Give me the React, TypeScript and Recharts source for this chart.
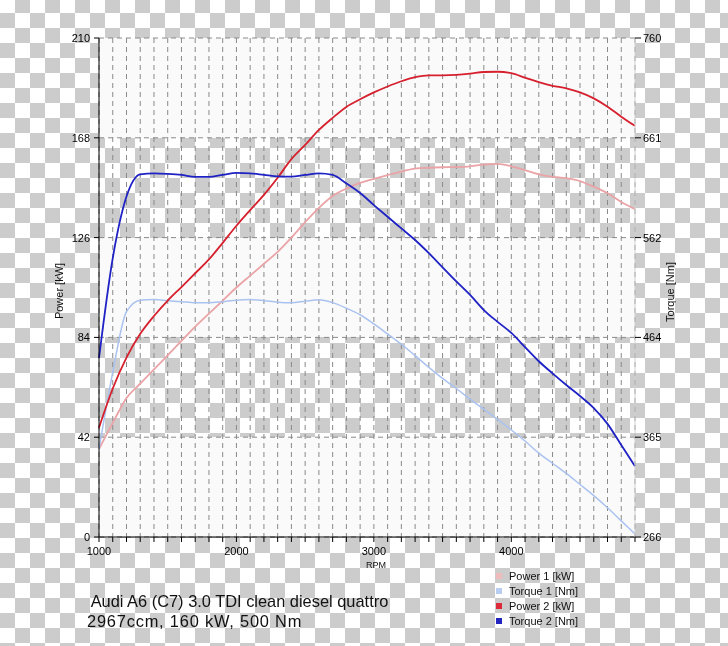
import React from 'react';
import { LineChart, Line, XAxis, YAxis, CartesianGrid, Legend } from 'recharts';

const rpm = [
  1000, 1100, 1200, 1300, 1400, 1500, 1600, 1700, 1800, 1900,
  2000, 2100, 2200, 2300, 2400, 2500, 2600, 2700, 2800, 2900,
  3000, 3100, 3200, 3300, 3400, 3500, 3600, 3700, 3800, 3900,
  4000, 4100, 4200, 4300, 4400, 4500, 4600, 4700, 4800, 4900,
];

const power1 = [
  37, 48, 58.5, 64.5, 70.5, 76.5, 82.5, 88.5, 94, 99.5,
  105, 110, 115, 120, 126, 132.5, 138.5, 143.5, 146.6, 149,
  150.7, 152.3, 153.8, 155, 155.4, 155.6, 155.7, 156, 156.7, 157,
  156, 154.4, 152.6, 151.6, 151, 149.8, 147.4, 144.7, 141, 138,
];

const torque1 = [
  353, 429, 489, 500.5, 501, 500, 499, 498, 497.8, 499,
  500.5, 501, 500, 498.5, 498, 499.5, 500.8, 498, 492.5, 486,
  477, 467, 457, 445.5, 434, 423, 413, 402.5, 392.5, 382.5,
  372, 361, 349, 339, 329, 318, 307, 295, 282, 269,
];

const power2 = [
  46, 62.5, 75.5, 85.5, 93, 99.5, 105.2, 111, 116.8, 123.8,
  131, 137.6, 144, 151.2, 159, 165, 171.3, 176.4, 181, 184.2,
  187.1, 189.6, 191.8, 193.5, 194.3, 194.3, 194.5, 195, 195.7, 195.8,
  195.2, 193.3, 191.4, 189.9, 188.8, 187.1, 184.6, 181.1, 176.9, 173,
];

const torque2 = [
  443, 542, 603, 625, 626, 625.5, 624.5, 622.5, 622.5, 624.5,
  626.5, 626, 624.5, 623, 622.7, 624.4, 626, 624.5, 616, 606.5,
  594.6, 583, 571.5, 560, 547, 533, 519, 505.6, 490.7, 479,
  468, 454, 440, 428, 416.5, 405.6, 393.7, 378, 357, 336,
];

const powerTicks = [0, 42, 84, 126, 168, 210];
const torqueTicks = [266, 364.8, 463.6, 562.4, 661.2, 760];
const rpmLabels = [1000, 2000, 3000, 4000];
const rpmGrid = rpm; // a dashed line and a tick every 100 rpm

const series = [
  { key: 'p1', name: 'Power 1 [kW]', color: '#eaa3a6', swatch: '#eebcbc', axis: 'left', width: 1.8 },
  { key: 't1', name: 'Torque 1 [Nm]', color: '#aac2f0', swatch: '#b9cdf2', axis: 'right', width: 1.5 },
  { key: 'p2', name: 'Power 2 [kW]', color: '#d6202e', swatch: '#dd2a3a', axis: 'left', width: 1.8 },
  { key: 't2', name: 'Torque 2 [Nm]', color: '#1f22c4', swatch: '#2424c0', axis: 'right', width: 1.8 },
];

const data = rpm.map((r, i) => ({
  rpm: r,
  p1: power1[i],
  t1: torque1[i],
  p2: power2[i],
  t2: torque2[i],
}));

const font = "'Liberation Sans', Arial, sans-serif";

const checker = 'repeating-conic-gradient(#cccccc 0% 25%, #ffffff 0% 50%) 0 -2px / 30px 30px';

const LegendBox = () => (
  <div style={{ fontFamily: font, fontSize: 11, color: '#111' }}>
    {series.map((s) => (
      <div key={s.key} style={{ display: 'flex', alignItems: 'center', height: 14.8 }}>
        <span style={{ width: 6, height: 6, background: s.swatch, marginRight: 7 }} />
        <span>{s.name}</span>
      </div>
    ))}
  </div>
);

export default function App() {
  return (
    <div
      style={{
        position: 'fixed',
        left: 0,
        top: 0,
        width: 728,
        height: 646,
        background: checker,
        fontFamily: font,
      }}
    >
      <LineChart
        width={728}
        height={646}
        data={data}
        margin={{ top: 38, right: 53, left: 59, bottom: 79 }}
      >
        <CartesianGrid
          yAxisId="left"
          stroke="#8a8a8a"
          strokeDasharray="5 4"
          horizontalFill={['#fafafa', 'transparent']}
          fillOpacity={1}
        />
        <XAxis
          dataKey="rpm"
          type="number"
          domain={[1000, 4900]}
          ticks={rpmGrid}
          interval={0}
          tickFormatter={(v: number) => (rpmLabels.includes(v) ? String(v) : '')}
          height={30}
          tickSize={5}
          tickMargin={5}
          stroke="#000"
          tick={{ fill: '#000', fontSize: 11, fontFamily: font }}
        />
        <YAxis
          yAxisId="left"
          domain={[0, 210]}
          ticks={powerTicks}
          width={40}
          tickSize={5}
          tickMargin={4}
          stroke="#000"
          tick={{ fill: '#000', fontSize: 11, fontFamily: font }}
        />
        <YAxis
          yAxisId="right"
          orientation="right"
          domain={[266, 760]}
          ticks={torqueTicks}
          width={40}
          tickSize={6}
          tickMargin={2}
          axisLine={{ stroke: '#d0d0d0' }}
          tickLine={{ stroke: '#000' }}
          tickFormatter={(v: number) => String(Math.round(v))}
          tick={{ fill: '#000', fontSize: 11, fontFamily: font }}
        />
        {series.map((s) => (
          <Line
            key={s.key}
            yAxisId={s.axis}
            dataKey={s.key}
            name={s.name}
            type="monotone"
            stroke={s.color}
            strokeWidth={s.width}
            dot={false}
            isAnimationActive={false}
          />
        ))}
        <Legend
          layout="vertical"
          align="center"
          verticalAlign="middle"
          content={<LegendBox />}
          wrapperStyle={{ left: 496, top: 569, width: 'auto', height: 'auto' }}
        />
      </LineChart>

      <div
        style={{
          position: 'absolute',
          left: 59,
          top: 291,
          transform: 'translate(-50%, -50%) rotate(-90deg)',
          fontSize: 11,
          whiteSpace: 'nowrap',
          color: '#111',
        }}
      >
        Power [kW]
      </div>
      <div
        style={{
          position: 'absolute',
          left: 670,
          top: 292,
          transform: 'translate(-50%, -50%) rotate(-90deg)',
          fontSize: 11,
          whiteSpace: 'nowrap',
          color: '#111',
        }}
      >
        Torque [Nm]
      </div>
      <div
        style={{
          position: 'absolute',
          left: 376,
          top: 565,
          transform: 'translate(-50%, -50%)',
          fontSize: 9,
          color: '#111',
        }}
      >
        RPM
      </div>
      <div
        style={{
          position: 'absolute',
          left: 87,
          top: 591,
          fontSize: 16.4,
          lineHeight: '20px',
          whiteSpace: 'pre',
          color: '#111',
        }}
      >
        <div>{' Audi A6 (C7) 3.0 TDI clean diesel quattro'}</div>
        <div style={{ letterSpacing: 0.8 }}>2967ccm, 160 kW, 500 Nm</div>
      </div>
    </div>
  );
}
